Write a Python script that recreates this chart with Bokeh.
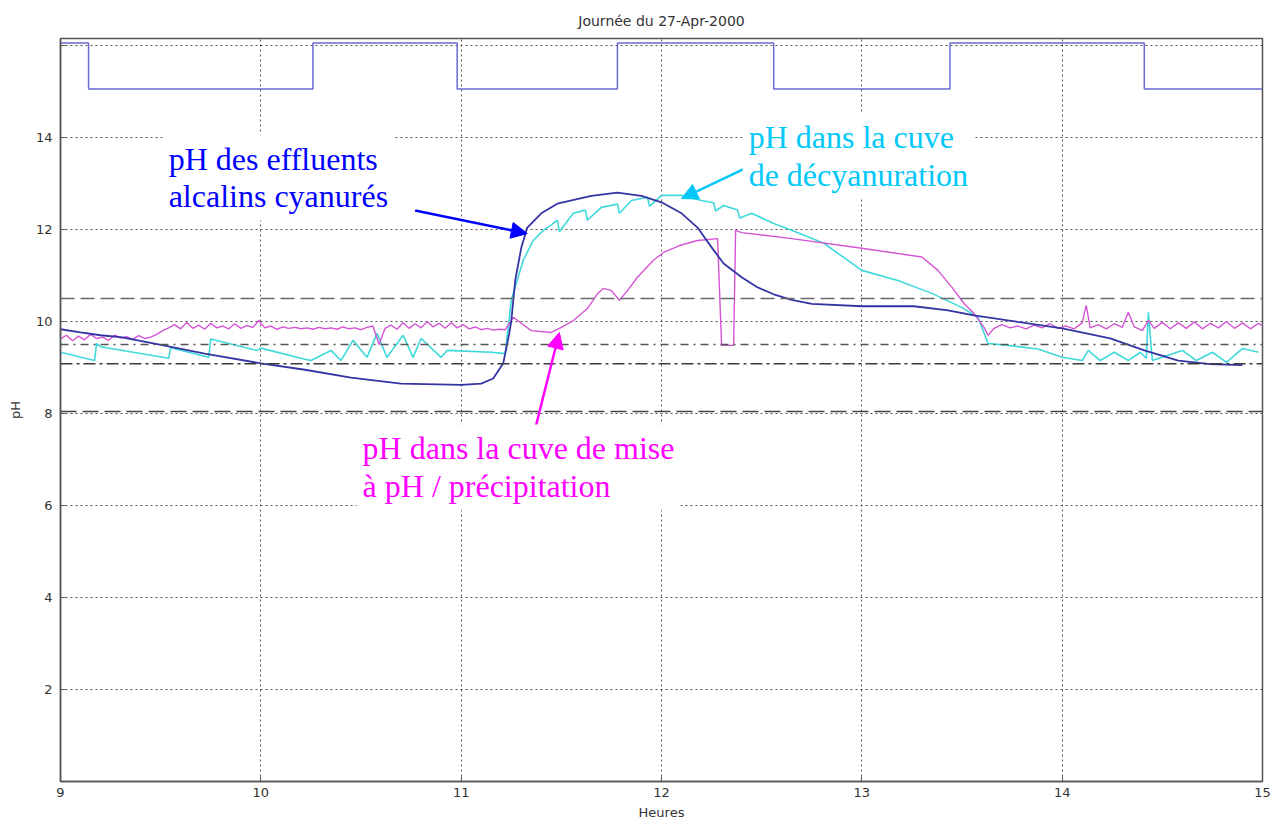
from bokeh.plotting import figure
from bokeh.models import Span, Label, Arrow, NormalHead, FixedTicker, Range1d
from bokeh.embed import file_html
from bokeh.resources import INLINE

# ---------------- data ----------------
title_text = "Journée du 27-Apr-2000"
x_label = "Heures"
y_label = "pH"
x_ticks = [9, 10, 11, 12, 13, 14, 15]
y_ticks = [2, 4, 6, 8, 10, 12, 14, 16]

# pump / state step signal at top
step_h = [9.0, 9.14, 10.26, 10.98, 11.78, 12.56, 13.44, 14.41, 15.0]
step_v = [16.05, 15.05, 16.05, 15.05, 16.05, 15.05, 16.05, 15.05, 15.05]

# pH des effluents alcalins cyanurés (blue)
eff_h = [9.00, 9.10, 9.20, 9.30, 9.47, 9.72, 10.00, 10.22, 10.45, 10.70, 11.00,
         11.10, 11.16, 11.21, 11.24, 11.25, 11.27, 11.30, 11.33, 11.40, 11.48,
         11.65, 11.78, 11.90, 12.00, 12.10, 12.18, 12.25, 12.31, 12.40, 12.48,
         12.56, 12.65, 12.75, 13.00, 13.26, 13.43, 13.56, 14.00, 14.24, 14.41,
         14.58, 14.74, 14.90]
eff_v = [9.83, 9.76, 9.70, 9.66, 9.52, 9.30, 9.09, 8.95, 8.78, 8.65, 8.62,
         8.65, 8.76, 9.09, 9.74, 10.00, 10.90, 11.60, 12.04, 12.35, 12.56,
         12.73, 12.80, 12.73, 12.59, 12.35, 12.04, 11.61, 11.26, 10.96, 10.74,
         10.59, 10.47, 10.38, 10.33, 10.33, 10.24, 10.13, 9.85, 9.63, 9.37,
         9.15, 9.07, 9.05]

# pH dans la cuve de décyanuration (cyan)
dec_h = [9.00, 9.17, 9.18, 9.20, 9.54, 9.55, 9.74, 9.75, 9.98, 10.00, 10.22,
         10.25, 10.35, 10.40, 10.46, 10.53, 10.58, 10.63, 10.71, 10.76, 10.80,
         10.90, 10.93, 11.15, 11.22, 11.25, 11.28, 11.31, 11.36, 11.41, 11.45,
         11.48, 11.49, 11.56, 11.62, 11.63, 11.70, 11.78, 11.79, 11.85, 11.93,
         11.94, 12.00, 12.10, 12.20, 12.26, 12.27, 12.31, 12.38, 12.39, 12.45,
         12.56, 12.65, 12.81, 13.00, 13.18, 13.35, 13.50, 13.58, 13.63, 13.73,
         13.88, 14.00, 14.10, 14.13, 14.19, 14.26, 14.33, 14.39, 14.42, 14.43,
         14.45, 14.60, 14.67, 14.75, 14.82, 14.90, 14.98]
dec_v = [9.33, 9.15, 9.52, 9.45, 9.20, 9.43, 9.22, 9.62, 9.37, 9.42, 9.18,
         9.15, 9.37, 9.15, 9.59, 9.22, 9.74, 9.22, 9.70, 9.22, 9.63,
         9.22, 9.37, 9.33, 9.30, 10.46, 10.90, 11.33, 11.76, 11.98, 12.10,
         12.20, 11.95, 12.35, 12.42, 12.20, 12.48, 12.55, 12.35, 12.63, 12.70,
         12.50, 12.74, 12.74, 12.63, 12.58, 12.40, 12.52, 12.42, 12.25, 12.35,
         12.13, 11.98, 11.70, 11.11, 10.89, 10.61, 10.30, 10.09, 9.52, 9.48,
         9.40, 9.22, 9.15, 9.37, 9.15, 9.33, 9.15, 9.33, 9.20, 10.20,
         9.15, 9.37, 9.15, 9.33, 9.11, 9.41, 9.33]

# pH dans la cuve de mise à pH / précipitation (magenta)
pre_h = [9.00, 9.03, 9.06, 9.09, 9.12, 9.15, 9.18, 9.21, 9.24, 9.27, 9.30,
         9.33, 9.36, 9.39, 9.42, 9.45, 9.48, 9.51, 9.54, 9.57, 9.60, 9.63,
         9.66, 9.69, 9.72, 9.75, 9.78, 9.81, 9.84, 9.87, 9.90, 9.93, 9.96,
         9.99, 10.02, 10.05, 10.08, 10.11, 10.14, 10.17, 10.20, 10.23, 10.26,
         10.29, 10.32, 10.35, 10.38, 10.41, 10.44, 10.47, 10.50, 10.53, 10.56,
         10.59, 10.62, 10.65, 10.68, 10.71, 10.74, 10.77, 10.80, 10.83, 10.86,
         10.89, 10.92, 10.95, 10.98, 11.01, 11.04, 11.07, 11.10, 11.13, 11.16,
         11.19, 11.22, 11.26, 11.30, 11.35, 11.45, 11.50, 11.56, 11.63, 11.68,
         11.71, 11.75, 11.79, 11.83, 11.88, 11.96, 12.01, 12.09, 12.18, 12.28,
         12.30, 12.36, 12.37, 12.40, 12.65, 13.00, 13.30, 13.38, 13.45, 13.51,
         13.56, 13.61, 13.63, 13.66, 13.70, 13.74, 13.78, 13.82, 13.86, 13.90,
         13.94, 13.98, 14.02, 14.06, 14.10, 14.12, 14.14, 14.18, 14.22, 14.26,
         14.30, 14.33, 14.36, 14.40, 14.43, 14.46, 14.50, 14.54, 14.58, 14.62,
         14.66, 14.70, 14.74, 14.78, 14.82, 14.86, 14.90, 14.94, 14.98, 15.00]
pre_v = [9.62, 9.70, 9.58, 9.68, 9.60, 9.72, 9.63, 9.66, 9.59, 9.70, 9.64,
         9.67, 9.61, 9.69, 9.63, 9.66, 9.72, 9.80, 9.86, 9.93, 9.84, 9.98,
         9.85, 9.92, 9.83, 9.96, 9.86, 9.90, 9.84, 9.95, 9.85, 9.91, 9.87,
         10.02, 9.86, 9.90, 9.83, 9.88, 9.85, 9.87, 9.84, 9.86, 9.83,
         9.87, 9.84, 9.86, 9.83, 9.88, 9.84, 9.86, 9.82, 9.87, 9.90,
         9.50, 9.85, 9.92, 9.83, 9.97, 9.85, 9.95, 9.86, 10.00, 9.88,
         9.96, 9.85, 9.97, 9.86, 9.93, 9.84, 9.88, 9.82, 9.85, 9.81,
         9.83, 9.82, 10.09, 9.96, 9.80, 9.76, 9.87, 10.02, 10.28, 10.60,
         10.72, 10.67, 10.46, 10.67, 10.96, 11.33, 11.50, 11.65, 11.76, 11.80,
         9.48, 9.48, 11.98, 11.93, 11.80, 11.59, 11.40, 11.11, 10.74, 10.39,
         10.17, 9.87, 9.70, 9.85, 9.93, 9.86, 9.90, 9.84, 9.92, 9.86,
         9.95, 9.85, 9.90, 9.84, 9.97, 10.35, 9.86, 9.93, 9.84, 9.95,
         9.87, 10.20, 9.88, 9.80, 10.02, 9.85, 9.98, 9.84, 9.97, 9.85,
         9.99, 9.84, 9.96, 9.86, 10.00, 9.85, 9.97, 9.84, 9.96, 9.90]

# reference (threshold) lines
ref_levels = [10.5, 9.5, 9.08, 8.04]
ref_dashes = ["14 6", "8 5 2 5", "12 4 3 4", "16 6"]
ref_colors = ["#6a6a6a", "#555555", "#3a3a3a", "#444444"]

# annotations: text, anchor (hour, pH), arrow start/end (hour, pH)
ann_texts = ["pH des effluents\nalcalins cyanurés",
             "pH dans la cuve\nde décyanuration",
             "pH dans la cuve de mise\nà pH / précipitation"]
ann_colors = ["#0000ff", "#00c8f8", "#ff00ff"]
ann_pos = [(9.51, 14.06), (12.405, 14.52), (10.478, 7.76)]
arrow_start = [(10.77, 12.41), (12.42, 13.33), (11.36, 7.50)]
arrow_end = [(11.33, 11.91), (12.10, 12.67), (11.49, 9.76)]

# ---------------- figure ----------------
p = figure(width=1272, height=823, output_backend="svg", toolbar_location=None,
           x_range=Range1d(9, 15), y_range=Range1d(0, 16.15),
           min_border_left=60, min_border_right=10, min_border_top=38,
           min_border_bottom=42)
p.title.text = title_text
p.title.align = "center"
p.title.text_font = "DejaVu Sans"
p.title.text_font_size = "14px"
p.title.text_font_style = "normal"
p.title.text_color = "#333333"
p.title.offset = 0
p.title.standoff = 19

for ax in (p.xaxis[0], p.yaxis[0]):
    ax.axis_line_color = "#555555"
    ax.axis_line_width = 1.5
    ax.major_tick_in = 5
    ax.major_tick_out = 0
    ax.minor_tick_in = 0
    ax.minor_tick_out = 0
    ax.major_tick_line_color = "#555555"
    ax.major_label_text_font = "DejaVu Sans"
    ax.major_label_text_font_size = "13px"
    ax.major_label_text_color = "#333333"
    ax.axis_label_text_font = "DejaVu Sans"
    ax.axis_label_text_font_size = "13px"
    ax.axis_label_text_font_style = "normal"
    ax.axis_label_text_color = "#333333"

p.xaxis.ticker = FixedTicker(ticks=x_ticks)
p.yaxis.ticker = FixedTicker(ticks=y_ticks)
p.yaxis.major_label_overrides = {16: ""}
p.xaxis.axis_label = x_label
p.yaxis.axis_label = y_label
p.xaxis.major_label_standoff = 6
p.xaxis.axis_label_standoff = 5
p.yaxis.major_label_standoff = 8
p.yaxis.axis_label_standoff = 10

p.grid.grid_line_color = "#555555"
p.grid.grid_line_dash = "2 3"
p.grid.grid_line_width = 1
p.outline_line_color = "#555555"
p.outline_line_width = 1.5

for lev, dash, col in zip(ref_levels, ref_dashes, ref_colors):
    p.add_layout(Span(location=lev, dimension="width", line_color=col,
                      line_dash=dash, line_width=1.5))

p.step(step_h, step_v, mode="after", line_color="#6a6ad2", line_width=1.5)
p.line(dec_h, dec_v, line_color="#3fd9dc", line_width=1.6)
p.line(pre_h, pre_v, line_color="#d455d4", line_width=1.4)
p.line(eff_h, eff_v, line_color="#3434a4", line_width=1.8)

for col, (xs, ys), (xe, ye) in zip(ann_colors, arrow_start, arrow_end):
    p.add_layout(Arrow(end=NormalHead(size=16, fill_color=col, line_color=col),
                       x_start=xs, y_start=ys, x_end=xe, y_end=ye,
                       line_color=col, line_width=2.5))

for txt, col, (ax_, ay_) in zip(ann_texts, ann_colors, ann_pos):
    p.add_layout(Label(x=ax_, y=ay_, text=txt, text_color=col,
                       text_font="Liberation Serif", text_font_size="32px",
                       text_baseline="top", text_align="left",
                       text_line_height=1.05,
                       background_fill_color="white", padding=6))

open("out.html", "w").write(file_html(p, INLINE))
